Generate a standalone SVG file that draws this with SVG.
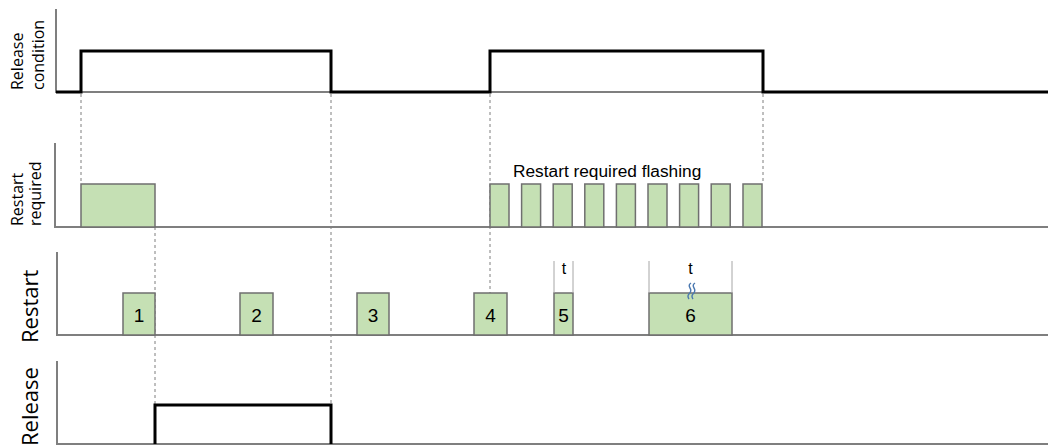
<svg xmlns="http://www.w3.org/2000/svg" width="1048" height="445" viewBox="0 0 1048 445">
<style>
.axis{fill:none;stroke:#7f7f7f;stroke-width:2}
.sig{fill:none;stroke:#000;stroke-width:3;stroke-linejoin:miter}
.dash{fill:none;stroke:#7f7f7f;stroke-width:1;stroke-dasharray:3,3}
.box{fill:#c5e0b4;stroke:#6f6f6f;stroke-width:1.5}
.lbl{font-family:"Open Sans","DejaVu Sans",sans-serif;fill:#000}
.num{font-family:"Liberation Sans",Arial,sans-serif;font-size:19px;fill:#000;text-anchor:middle}
.tick{fill:none;stroke:#a6a6a6;stroke-width:1}
.tt{font-family:"Liberation Sans",Arial,sans-serif;font-size:16px;fill:#000;text-anchor:middle}
</style>
<rect width="1048" height="445" fill="#fff"/>
<g id="connectors">
<line class="dash" x1="81" y1="94" x2="81" y2="184"/>
<line class="dash" x1="331" y1="94" x2="331" y2="405"/>
<line class="dash" x1="490" y1="94" x2="490" y2="293"/>
<line class="dash" x1="763" y1="94" x2="763" y2="184"/>
<line class="dash" x1="155" y1="227" x2="155" y2="405"/>
</g>
<g id="release-condition">
<polyline class="axis" points="56,9 56,92 1048,92"/>
<polyline class="sig" points="56,92 81,92 81,51 331,51 331,92 490,92 490,51 763,51 763,92 1048,92"/>
<text class="lbl" font-size="16" transform="translate(23,90) rotate(-90)">Release</text>
<text class="lbl" font-size="16" transform="translate(44,90) rotate(-90)">condition</text>
</g>
<g id="restart-required">
<polyline class="axis" points="55,143 55,227 1048,227"/>
<rect class="box" x="81" y="184" width="74" height="43"/>
<rect class="box" x="490" y="184" width="19" height="43"/>
<rect class="box" x="521.6" y="184" width="19" height="43"/>
<rect class="box" x="553.2" y="184" width="19" height="43"/>
<rect class="box" x="584.8" y="184" width="19" height="43"/>
<rect class="box" x="616.4" y="184" width="19" height="43"/>
<rect class="box" x="648" y="184" width="19" height="43"/>
<rect class="box" x="679.6" y="184" width="19" height="43"/>
<rect class="box" x="711.2" y="184" width="19" height="43"/>
<rect class="box" x="743" y="184" width="19" height="43"/>
<text x="513" y="177" font-family="Liberation Sans, Arial, sans-serif" font-size="17.3" fill="#000">Restart required flashing</text>
<text class="lbl" font-size="16" transform="translate(23,226) rotate(-90)">Restart</text>
<text class="lbl" font-size="16" transform="translate(41,226) rotate(-90)">required</text>
</g>
<g id="restart">
<polyline class="axis" points="57,252 57,335 1048,335"/>
<rect class="box" x="123" y="293" width="32" height="42"/>
<text class="num" x="139" y="322">1</text>
<rect class="box" x="240" y="293" width="33" height="42"/>
<text class="num" x="256.5" y="322">2</text>
<rect class="box" x="357" y="293" width="32" height="42"/>
<text class="num" x="373" y="322">3</text>
<rect class="box" x="474" y="293" width="33" height="42"/>
<text class="num" x="490.5" y="322">4</text>
<rect class="box" x="554" y="293" width="19" height="42"/>
<text class="num" x="563.5" y="322">5</text>
<rect class="box" x="649" y="293" width="83" height="42"/>
<text class="num" x="690.5" y="322">6</text>
<line class="tick" x1="554" y1="261" x2="554" y2="293"/>
<line class="tick" x1="573" y1="261" x2="573" y2="293"/>
<line class="tick" x1="649" y1="261" x2="649" y2="293"/>
<line class="tick" x1="732" y1="261" x2="732" y2="293"/>
<text class="tt" x="564" y="274">t</text>
<text class="tt" x="690.5" y="274">t</text>
<path d="M691,283 q-3,2 -1,5 q2,3 -1,6 q-2,2 0,5 M695,283 q-3,2 -1,5 q2,3 -1,6 q-2,2 0,5" fill="none" stroke="#4a78b0" stroke-width="1.4"/>
<text class="lbl" font-size="22" transform="translate(38,343) rotate(-90)">Restart</text>
</g>
<g id="release">
<polyline class="axis" points="57,361 57,444 1048,444"/>
<polyline class="sig" points="155,444 155,405 331,405 331,444"/>
<text class="lbl" font-size="22" transform="translate(38,446) rotate(-90)">Release</text>
</g>
</svg>
